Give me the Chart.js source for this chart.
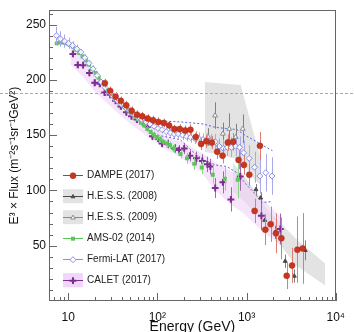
<!DOCTYPE html>
<html><head><meta charset="utf-8">
<script src="https://cdn.jsdelivr.net/npm/chart.js@4.4.1/dist/chart.umd.min.js"></script>
<style>html,body{margin:0;padding:0;background:#fff;}#wrap{width:354px;height:332px;}</style>
</head><body><div id="wrap"><canvas id="c" width="354" height="332"></canvas></div>
<script>
// ---------------- data ----------------
const dampeE = [25.8, 29.6, 34.0, 39.0, 44.8, 51.5, 59.1, 67.8, 77.9, 89.4, 102.6, 117.8, 135.3, 155.3, 178.3, 204.7, 235.0, 269.8, 309.7, 355.6, 408.2, 468.6, 538.0, 617.6, 709.0, 814.0, 934.5, 1073, 1232, 1414, 1623, 1863, 2139, 2456, 2819, 3237, 3716, 4266];
const dampeFlux = [197, 190, 185, 181, 177, 172, 168.5, 167, 165, 163.5, 162, 161, 158.8, 155.5, 155.5, 154.3, 154.9, 148.3, 142, 144.5, 143.3, 135, 131.4, 143.3, 144, 127.6, 123.1, 114.2, 81.5, 140.3, 64.5, 69.5, 61.2, 56.7, 22.8, 32.1, 46.4, 47.5];
const dampeErr = [4, 4, 4, 4, 4, 4, 4, 4, 4, 4, 4, 4, 4, 4, 4.5, 4.5, 5, 5, 5.5, 6, 6, 6.5, 7, 7.5, 8, 8.5, 9, 10, 11, 12.6, 14, 16, 18, 19, 12, 16, 30, 32];

const amsE = [7.44, 8.08, 8.78, 9.56, 10.4, 11.3, 12.3, 13.3, 14.5, 15.8, 17.2, 18.6, 20.3, 22.0, 23.9, 26.0, 28.3, 30.8, 33.5, 36.4, 39.6, 43.0, 46.8, 50.8, 55.3, 60.1, 65.3, 71.0, 77.2, 84.0, 91.3, 99.2, 108, 117, 128, 139, 154, 182, 215, 259, 315, 418, 570, 797];
const amsFlux = [233, 233.7, 233.7, 233, 231.7, 230.2, 227.2, 224.2, 221.2, 217.7, 213.7, 209.9, 206.3, 201.9, 197.4, 193.8, 190, 185.5, 182.5, 180.1, 177.8, 175.1, 172.2, 169.1, 167.1, 164.4, 161.1, 158.8, 155.5, 152.8, 150.4, 148.3, 146.3, 143.9, 142.4, 140.9, 138, 133, 129, 124, 120.7, 114.2, 110.6, 109.7];
const amsErr = [2, 2, 2, 2, 2, 2, 2, 2, 2, 2, 2, 2, 2, 2, 2, 2, 2, 2, 2, 2, 2, 2, 2, 2, 2, 2, 2.5, 2.5, 2.5, 2.5, 3, 3, 3, 3, 3.5, 3.5, 4, 4, 5, 5.5, 6, 8, 11, 17];

const fermiE = [7.4, 8.2, 9.1, 10.1, 11.2, 12.5, 13.9, 15.4, 17.1, 19.0, 21.1, 23.4, 26.0, 28.9, 32.1, 35.7, 39.6, 44.0, 48.9, 54.3, 60.3, 67.0, 74.4, 82.7, 91.8, 102, 113, 126, 140, 155, 172, 192, 213, 236, 263, 292, 324, 360, 400, 445, 494, 549, 610, 677, 752, 835, 928, 1070, 1230, 1410, 1640, 1930];
const fermiFlux = [240, 237, 235, 233, 231, 228, 225, 220, 215, 210, 204, 198, 193, 189, 185, 181, 178, 175, 172, 169, 166, 164, 162, 160, 158, 156, 155, 153, 152, 151, 151, 150, 149, 148, 147, 147, 146, 146, 145, 144, 140, 138, 139, 139, 140, 139, 134, 129, 121, 113, 116, 113];
const fermiErr = [8, 7, 6, 5, 4, 4, 3, 3, 3, 3, 3, 3, 3, 3, 3, 3, 3, 3, 3, 3, 3, 3, 3, 3, 3, 3, 3.5, 3.5, 4, 4, 4, 4.5, 4.5, 5, 5, 5.5, 5.5, 6, 6, 7, 7, 8, 8, 9, 9, 10, 11, 12, 14, 16, 17, 17];
const fermiSysE = [100, 180, 250, 330, 450, 600, 780, 1000, 1180, 1500, 1950];
const fermiSysHi = [163, 162, 161, 160, 157, 156, 155, 149, 146, 141, 136];
const fermiSysLo = [150, 146, 135, 127.5, 123, 121.6, 116, 105, 99, 89, 90];

const caletE = [11.3, 12.8, 14.7, 17.3, 19.8, 22.6, 25.6, 29.5, 34.0, 38.9, 44.9, 51.3, 58.9, 68.1, 77.8, 88, 102, 113, 131, 156, 175, 200, 232, 274, 319, 364, 393, 445, 543, 668, 850, 1468, 2390];
const caletFlux = [223.5, 213.5, 213.3, 206.3, 197.4, 196.5, 188.5, 186.5, 181.1, 176, 170.7, 167.1, 164.1, 161.7, 157.3, 149, 146.8, 142.4, 142, 138, 136.5, 138, 131.4, 129, 126.7, 123.6, 121.6, 102.2, 107.3, 91.9, 112.7, 77, 65.1];
const caletErr = [3, 3, 3, 3, 3, 3, 3, 3, 3, 3, 3, 3, 3, 3, 3, 3.5, 3.5, 3.5, 4, 4, 4.5, 5, 5, 6, 6, 7, 7, 9, 10, 11, 13, 13, 14];
const caletBandE = [10.6, 15, 20, 30, 50, 80, 120, 200, 300, 450, 650, 900, 1300, 1800, 2500];
const caletBandHi = [232, 220, 206, 190, 173, 161, 150, 143, 135, 125, 118, 112, 98, 86, 75];
const caletBandLo = [214, 202, 189, 176, 160, 148, 138, 128, 118, 100, 88, 80, 68, 58, 50];

const hess09E = [372, 444, 543, 640, 756, 906];
const hess09Flux = [148.3, 167.7, 151.3, 155.7, 148.3, 155.7];
const hess09Err = [8, 12, 10, 14, 12, 13];
const hess09BandE = [340, 860, 1220, 1450];
const hess09BandHi = [198, 195.4, 150, 129];
const hess09BandLo = [135, 128, 110, 105];

const hess08E = [1274, 1437, 1599, 2103, 2713, 3430, 4546];
const hess08Flux = [100.8, 93.3, 73.1, 62.1, 36, 22.6, 45.8];
const hess08Err = [5, 5, 5, 6, 6, 6, 9];
const hess08BandE = [700, 1000, 1700, 3600, 7600];
const hess08BandHi = [125, 110, 83, 56, 34];
const hess08BandLo = [100, 88, 66, 32, 14];

const refLevel = [188];
const xTickText = {1: '10', 2: '10²', 3: '10³', 4: '10⁴'};
const legendLabels = ['DAMPE (2017)', 'H.E.S.S. (2008)', 'H.E.S.S. (2009)', 'AMS-02 (2014)', 'Fermi-LAT (2017)', 'CALET (2017)'];
const xTitle = 'Energy (GeV)';
const yTitle = 'E³ × Flux (m⁻²s⁻¹sr⁻¹GeV²)';

// ---------------- helpers ----------------
const pts = (E, V) => E.map((x, i) => ({x: x, y: V[i]}));
const FONT = '"Liberation Sans", Arial, Helvetica, sans-serif';

const C = {
  dampe: '#c8361f', dampeErr: '#dc7d72',
  ams: '#5cc65c', amsErr: '#8ad88a',
  fermi: '#8c8ce2', fermiErr: '#a9a9ea', fermiSys: '#5566dd',
  calet: '#7d2f90', caletErr: '#a066b0', caletBand: 'rgba(238,210,247,0.6)',
  hess08: '#4a4a4a', hess09: '#8a8a8a', hessErr: '#808080', hessBand: '#e3e3e3'
};

function bandPair(E, hi, lo, color, order) {
  return [
    {data: pts(E, hi), showLine: true, pointRadius: 0, borderWidth: 0, borderColor: 'rgba(0,0,0,0)', fill: false, order: order},
    {data: pts(E, lo), showLine: true, pointRadius: 0, borderWidth: 0, borderColor: 'rgba(0,0,0,0)', backgroundColor: color, fill: '-1', order: order}
  ];
}

const datasets = [
  ...bandPair(hess09BandE, hess09BandHi, hess09BandLo, C.hessBand, 20),
  ...bandPair(hess08BandE, hess08BandHi, hess08BandLo, C.hessBand, 19),
  ...bandPair(caletBandE, caletBandHi, caletBandLo, C.caletBand, 18),
  {data: pts(fermiSysE, fermiSysHi), showLine: true, pointRadius: 0, borderColor: C.fermiSys, borderWidth: 1, borderDash: [2, 2], fill: false, order: 15},
  {data: pts(fermiSysE, fermiSysLo), showLine: true, pointRadius: 0, borderColor: C.fermiSys, borderWidth: 1, borderDash: [2, 2], fill: false, order: 15},
  {label: 'H.E.S.S. (2009)', data: pts(hess09E, hess09Flux), errors: hess09Err, errorColor: C.hessErr,
   pointStyle: 'triangle', pointRadius: 2.8, backgroundColor: '#ffffff', borderColor: C.hess09, borderWidth: 1, order: 8},
  {label: 'H.E.S.S. (2008)', data: pts(hess08E, hess08Flux), errors: hess08Err, errorColor: C.hessErr,
   pointStyle: 'triangle', pointRadius: 2.3, backgroundColor: C.hess08, borderColor: C.hess08, borderWidth: 1, order: 7},
  {label: 'CALET (2017)', data: pts(caletE, caletFlux), errors: caletErr, errorColor: C.caletErr,
   pointStyle: 'cross', pointRadius: 3.4, borderColor: C.calet, backgroundColor: C.calet, borderWidth: 2, order: 6},
  {label: 'AMS-02 (2014)', data: pts(amsE, amsFlux), errors: amsErr, errorColor: C.amsErr,
   pointStyle: 'rect', pointRadius: 2.8, backgroundColor: C.ams, borderColor: C.ams, borderWidth: 0, order: 5},
  {label: 'Fermi-LAT (2017)', data: pts(fermiE, fermiFlux), errors: fermiErr, errorColor: C.fermiErr,
   pointStyle: 'rectRot', pointRadius: 3.0, backgroundColor: 'rgba(255,255,255,0.85)', borderColor: C.fermi, borderWidth: 1, order: 4},
  {label: 'DAMPE (2017)', data: pts(dampeE, dampeFlux), errors: dampeErr, errorColor: C.dampeErr,
   pointStyle: 'circle', pointRadius: 3.0, backgroundColor: C.dampe, borderColor: '#a82818', borderWidth: 0.5, order: 1}
];

// ---------------- plugins ----------------
const errorBars = {
  id: 'errorBars',
  beforeDatasetDraw(chart, args) {
    const ds = chart.data.datasets[args.index];
    if (!ds.errors) return;
    const ys = chart.scales.y, ctx = chart.ctx, ca = chart.chartArea;
    ctx.save();
    ctx.beginPath(); ctx.rect(ca.left, ca.top, ca.right - ca.left, ca.bottom - ca.top); ctx.clip();
    ctx.strokeStyle = ds.errorColor; ctx.lineWidth = 1;
    ctx.beginPath();
    args.meta.data.forEach((p, i) => {
      const v = ds.data[i].y, e = ds.errors[i];
      const px = Math.round(p.x) + 0.5;
      ctx.moveTo(px, ys.getPixelForValue(v + e));
      ctx.lineTo(px, ys.getPixelForValue(v - e));
    });
    ctx.stroke();
    ctx.restore();
  }
};

const frameTicks = {
  id: 'frameTicks',
  afterDatasetsDraw(chart) {
    const ctx = chart.ctx, ca = chart.chartArea, xs = chart.scales.x, ys = chart.scales.y;
    ctx.save();
    ctx.strokeStyle = '#a8a8a8'; ctx.lineWidth = 1; ctx.setLineDash([3, 2]);
    const yr = Math.round(ys.getPixelForValue(refLevel[0])) + 0.5;
    ctx.beginPath(); ctx.moveTo(0, yr); ctx.lineTo(chart.width, yr); ctx.stroke();
    ctx.setLineDash([]);
    ctx.strokeStyle = '#666'; ctx.lineWidth = 1;
    ctx.strokeRect(Math.round(ca.left) + 0.5, Math.round(ca.top) + 0.5, Math.round(ca.right - ca.left) - 1, Math.round(ca.bottom - ca.top) - 1);
    ctx.beginPath();
    for (let v = 0; v <= ys.max; v += 10) {
      const py = Math.round(ys.getPixelForValue(v)) + 0.5;
      if (py < ca.top || py > ca.bottom) continue;
      const len = v % 50 === 0 ? 8 : 4;
      ctx.moveTo(ca.left, py); ctx.lineTo(ca.left + len, py);
    }
    for (let d = 0; d <= 4; d++) {
      for (let k = 1; k <= 9; k++) {
        const E = k * Math.pow(10, d);
        if (E < xs.min || E > xs.max) continue;
        const px = Math.round(xs.getPixelForValue(E)) + 0.5;
        const len = k === 1 ? 8 : 4;
        ctx.moveTo(px, ca.bottom); ctx.lineTo(px, ca.bottom - len);
      }
    }
    ctx.stroke();
    ctx.restore();
  }
};

function marker(ctx, style, x, y, fill, stroke, r, bw) {
  ctx.save();
  ctx.fillStyle = fill; ctx.strokeStyle = stroke; ctx.lineWidth = bw;
  ctx.beginPath();
  if (style === 'circle') { ctx.arc(x, y, r, 0, Math.PI * 2); ctx.fill(); if (bw) ctx.stroke(); }
  else if (style === 'rect') { const s = r * Math.SQRT1_2; ctx.rect(x - s, y - s, 2 * s, 2 * s); ctx.fill(); }
  else if (style === 'rectRot') { ctx.moveTo(x, y - r); ctx.lineTo(x + r, y); ctx.lineTo(x, y + r); ctx.lineTo(x - r, y); ctx.closePath(); ctx.fill(); ctx.stroke(); }
  else if (style === 'triangle') { ctx.moveTo(x, y - r); ctx.lineTo(x + r * 0.87, y + r * 0.5); ctx.lineTo(x - r * 0.87, y + r * 0.5); ctx.closePath(); ctx.fill(); ctx.stroke(); }
  else if (style === 'cross') { ctx.moveTo(x - r, y); ctx.lineTo(x + r, y); ctx.moveTo(x, y - r); ctx.lineTo(x, y + r); ctx.stroke(); }
  ctx.restore();
}

const customLegend = {
  id: 'customLegend',
  afterDraw(chart) {
    const ctx = chart.ctx, ca = chart.chartArea;
    const spec = [
      {line: C.dampe, style: 'circle', fill: C.dampe, stroke: '#a82818', r: 3.0, bw: 0.5},
      {box: C.hessBand, line: C.hess08, style: 'triangle', fill: C.hess08, stroke: C.hess08, r: 2.2, bw: 1},
      {box: C.hessBand, line: C.hess09, style: 'triangle', fill: '#fff', stroke: C.hess09, r: 2.6, bw: 1},
      {line: C.ams, style: 'rect', fill: C.ams, stroke: C.ams, r: 2.8, bw: 0},
      {line: C.fermi, style: 'rectRot', fill: '#fff', stroke: C.fermi, r: 3.0, bw: 1},
      {box: 'rgba(238,210,247,0.9)', line: C.calet, style: 'cross', fill: C.calet, stroke: C.calet, r: 3.4, bw: 2}
    ];
    const x0 = ca.left + 14, x1 = ca.left + 34, xm = (x0 + x1) / 2, tx = ca.left + 38;
    ctx.save();
    legendLabels.forEach((lab, i) => {
      const s = spec[i];
      const y = ca.top + 165 + i * 21;
      if (s.box) { ctx.fillStyle = s.box; ctx.fillRect(x0, y - 7, x1 - x0, 14); }
      ctx.strokeStyle = s.line; ctx.lineWidth = 1;
      ctx.beginPath(); ctx.moveTo(x0, Math.round(y) + 0.5); ctx.lineTo(x1, Math.round(y) + 0.5); ctx.stroke();
      marker(ctx, s.style, xm, y + 0.5, s.fill, s.stroke, s.r, s.bw);
      ctx.fillStyle = '#222';
      ctx.font = '10px ' + FONT;
      ctx.textBaseline = 'middle'; ctx.textAlign = 'left';
      ctx.fillText(lab, tx, y + 0.5);
    });
    ctx.restore();
  }
};

// ---------------- chart ----------------
new Chart(document.getElementById('c'), {
  type: 'scatter',
  data: {datasets: datasets},
  plugins: [errorBars, frameTicks, customLegend],
  options: {
    responsive: false,
    devicePixelRatio: 1,
    animation: false,
    events: [],
    layout: {padding: {top: 6, right: 10, left: 0, bottom: 0}},
    elements: {line: {tension: 0}},
    plugins: {legend: {display: false}, tooltip: {enabled: false}},
    scales: {
      x: {
        type: 'logarithmic', min: 6.1, max: 10000,
        grid: {display: false, drawTicks: false},
        border: {display: false},
        afterFit: (s) => { s.height = 31; },
        ticks: {
          autoSkip: false, maxRotation: 0, minRotation: 0, padding: 9,
          color: '#111', font: {family: FONT, size: 12},
          callback: (v) => {
            const l = Math.log10(v);
            const r = Math.round(l);
            return Math.abs(l - r) < 1e-6 && xTickText[r] ? xTickText[r] : '';
          }
        },
        title: {display: true, text: xTitle, color: '#111', font: {family: FONT, size: 14, lineHeight: 0.72}, padding: 0}
      },
      y: {
        type: 'linear', min: 0, max: 263,
        grid: {display: false, drawTicks: false},
        border: {display: false},
        afterFit: (s) => { s.width = 49; },
        ticks: {
          stepSize: 50, autoSkip: false, padding: 3,
          color: '#111', font: {family: FONT, size: 12},
          callback: (v) => (v > 0 && v % 50 === 0) ? String(v) : ''
        },
        title: {display: true, text: yTitle, color: '#111', font: {family: FONT, size: 12, lineHeight: 1.2}, padding: {top: 7, bottom: 0}}
      }
    }
  }
});
</script></body></html>
